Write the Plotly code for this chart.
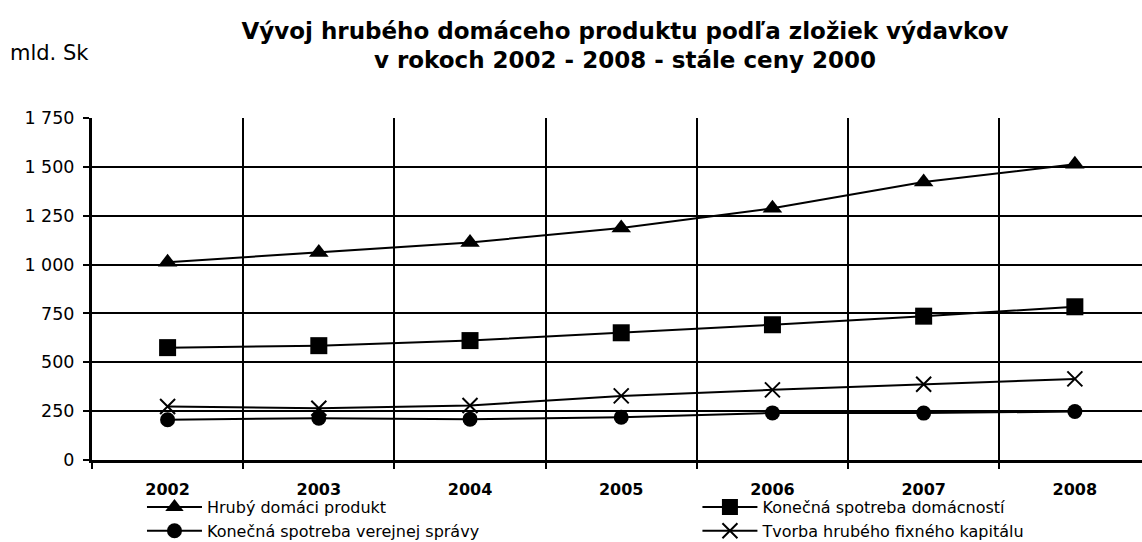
import plotly.graph_objects as go

years = ["2002", "2003", "2004", "2005", "2006", "2007", "2008"]

hdp = [1012, 1062, 1113, 1187, 1288, 1422, 1513]
spotreba_domacnosti = [575, 585, 611, 651, 692, 736, 784]
spotreba_spravy = [206, 214, 209, 219, 241, 240, 248]
tvorba_kapitalu = [274, 265, 279, 328, 359, 388, 415]

y_ticks = [0, 250, 500, 750, 1000, 1250, 1500, 1750]

FONT = "DejaVu Sans"
BLACK = "#000000"

# name, values, marker symbol, marker size, legend column
series = [
    ("Hrubý domáci produkt", hdp, "triangle-up", 17, "legend"),
    ("Konečná spotreba domácností", spotreba_domacnosti, "square", 17, "legend2"),
    ("Konečná spotreba verejnej správy", spotreba_spravy, "circle", 15, "legend"),
    ("Tvorba hrubého fixného kapitálu", tvorba_kapitalu, "x-thin", 15, "legend2"),
]

fig = go.Figure()
for name, values, symbol, size, legend in series:
    fig.add_trace(
        go.Scatter(
            x=years,
            y=values,
            name=name,
            legend=legend,
            mode="lines+markers",
            line=dict(color=BLACK, width=2),
            marker=dict(
                symbol=symbol,
                size=size,
                color=BLACK,
                line=dict(color=BLACK, width=2 if symbol == "x-thin" else 0),
            ),
        )
    )

legend_style = dict(
    orientation="v",
    xanchor="left",
    y=-0.088,
    yanchor="top",
    font=dict(family=FONT, size=16, color=BLACK),
    itemwidth=55,
    tracegroupgap=0,
    bgcolor="rgba(0,0,0,0)",
)

fig.update_layout(
    width=1142,
    height=542,
    margin=dict(l=92, r=0, t=118, b=82, autoexpand=False),
    paper_bgcolor="white",
    plot_bgcolor="white",
    separators=", ",
    font=dict(family=FONT, color=BLACK, size=17),
    title=dict(
        text="Vývoj hrubého domáceho produktu podľa zložiek výdavkov<br>v rokoch 2002 - 2008 - stále ceny 2000",
        font=dict(family=FONT, size=23, color=BLACK, weight="bold"),
        xref="container",
        yref="container",
        x=625 / 1142,
        xanchor="center",
        y=1 - 38.5 / 542,
        yanchor="middle",
    ),
    showlegend=True,
    legend=dict(x=0.0476, **legend_style),
    legend2=dict(x=0.5766, **legend_style),
    annotations=[
        dict(
            text="mld. Sk",
            xref="paper",
            yref="paper",
            x=-84 / 1050,
            xanchor="left",
            y=(460 - 53) / 342,
            yanchor="middle",
            showarrow=False,
            font=dict(family=FONT, size=21, color=BLACK),
        )
    ],
)

fig.update_xaxes(
    type="category",
    range=[-0.5, 6.444],
    tickson="boundaries",
    showgrid=True,
    gridcolor=BLACK,
    gridwidth=2,
    ticks="outside",
    ticklen=6,
    tickwidth=2,
    tickcolor=BLACK,
    showline=True,
    linecolor=BLACK,
    linewidth=3,
    ticklabelstandoff=13,
    tickfont=dict(family=FONT, size=16, color=BLACK, weight="bold"),
)

fig.update_yaxes(
    range=[0, 1750],
    tickvals=y_ticks,
    tickformat=",d",
    showgrid=True,
    gridcolor=BLACK,
    gridwidth=2,
    zeroline=False,
    ticks="outside",
    ticklen=6,
    tickwidth=2,
    tickcolor=BLACK,
    showline=True,
    linecolor=BLACK,
    linewidth=3,
    ticklabelstandoff=5,
    tickfont=dict(family=FONT, size=17.5, color=BLACK),
)

# page body has a default 8px margin; drop it so the figure fills the window
fig.write_html(
    "out.html",
    config={"displayModeBar": False},
    post_script="document.body.style.margin = '0';",
)
